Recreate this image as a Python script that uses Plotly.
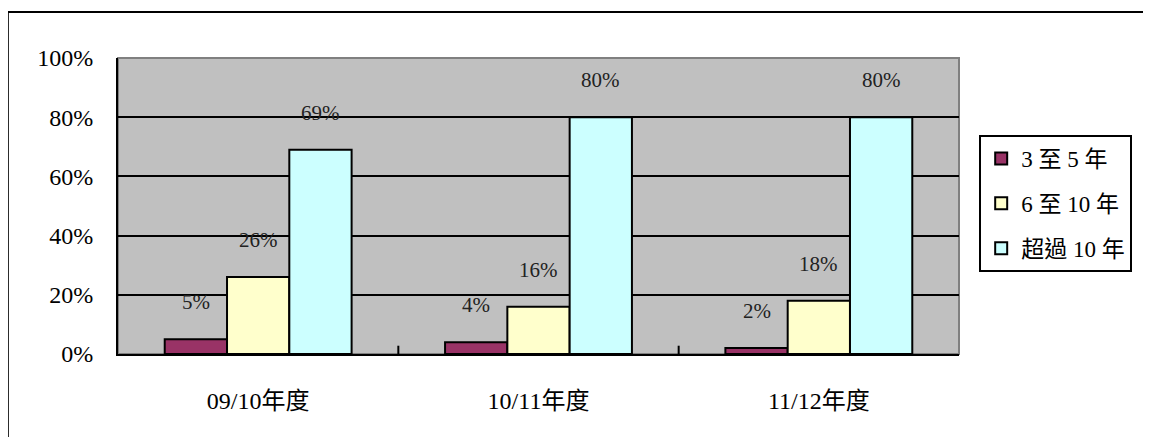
import plotly.graph_objects as go

categories = ["09/10年度", "10/11年度", "11/12年度"]
series_names = ["3 至 5 年", "6 至 10 年", "超過 10 年"]
series_values = [
    [5, 4, 2],
    [26, 16, 18],
    [69, 80, 80],
]
colors = ["#993366", "#FFFFCC", "#CCFFFF"]
y_ticks = [0, 20, 40, 60, 80, 100]
y_tick_labels = ["0%", "20%", "40%", "60%", "80%", "100%"]

FONT = "Liberation Serif, Noto Sans CJK TC, serif"

fig = go.Figure()
for name, vals, col in zip(series_names, series_values, colors):
    fig.add_trace(go.Bar(
        x=list(range(len(categories))), y=vals, name=name, legendgroup=name,
        marker=dict(color=col, line=dict(color="black", width=2)),
    ))

# data labels
n = len(series_names)
width = (1 - 1 / 3) / n
for j, vals in enumerate(series_values):
    for i, v in enumerate(vals):
        fig.add_annotation(
            x=i + (j - (n - 1) / 2) * width, y=v, xref="x", yref="y",
            text=f"{v}%", showarrow=False, yanchor="middle", yshift=37,
            font=dict(family=FONT, size=21, color="#222222"),
        )

fig.update_layout(
    width=1143, height=429,
    margin=dict(l=110, r=192, t=50, b=83),
    paper_bgcolor="white", plot_bgcolor="#C0C0C0",
    barmode="group", bargap=1 / 3, bargroupgap=0,
    font=dict(family=FONT, color="black"),
    showlegend=True,
    legend=dict(
        x=1.024, y=0.74, xanchor="left", yanchor="top",
        bgcolor="white", bordercolor="black", borderwidth=2,
        font=dict(family=FONT, size=23, color="black"),
        tracegroupgap=12, itemwidth=30,
    ),
    shapes=[
        dict(type="rect", xref="paper", yref="paper", x0=0, x1=1, y0=0, y1=1,
             line=dict(color="#808080", width=2), layer="below"),
        dict(type="line", xref="paper", yref="paper", x0=-0.131, x1=1.3, y0=1.1554, y1=1.1554,
             line=dict(color="black", width=2)),
        dict(type="line", xref="paper", yref="paper", x0=-0.131, x1=-0.131, y0=1.1554, y1=-0.3,
             line=dict(color="black", width=2)),
    ],
)

fig.update_xaxes(
    tickmode="array", tickvals=list(range(len(categories))), ticktext=categories,
    range=[-0.5, len(categories) - 0.5],
    showline=True, linecolor="black", linewidth=2,
    showgrid=False, zeroline=False,
    tickfont=dict(family=FONT, size=24, color="black"),
    ticks="", ticklabelstandoff=24,
)

# inside tick marks at category boundaries
for b in [0.5, 1.5]:
    fig.add_shape(type="line", xref="x", yref="paper", x0=b, x1=b, y0=0, y1=0.028,
                  line=dict(color="black", width=2))

fig.update_yaxes(
    range=[0, 100], tickmode="array", tickvals=y_ticks, ticktext=y_tick_labels,
    showline=True, linecolor="black", linewidth=2,
    showgrid=True, gridcolor="black", gridwidth=2,
    zeroline=False,
    tickfont=dict(family=FONT, size=24, color="black"),
    ticks="", ticklabelstandoff=18,
)

fig.write_html("out.html")
